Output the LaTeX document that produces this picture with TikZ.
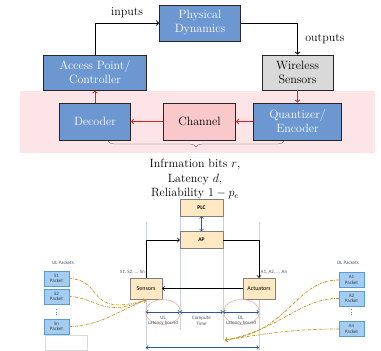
\documentclass[tikz,border=0pt]{standalone}
\usepackage{amsmath}
\usepackage{fontspec}
\newfontfamily\calibri{Carlito}
\usetikzlibrary{positioning,calc,decorations.pathreplacing}

\definecolor{boxblue}{HTML}{6C97D0}
\definecolor{boxgray}{HTML}{D9D9D9}
\definecolor{chanpink}{HTML}{F9C8CB}
\definecolor{bandpink}{HTML}{FDE4E7}
\definecolor{plcfill}{HTML}{FFE8C2}
\definecolor{packfill}{HTML}{A3CDF2}
\definecolor{packedge}{HTML}{5B9BD5}
\definecolor{guidegray}{HTML}{C9D3E0}
\definecolor{labelblue}{HTML}{44546A}
\definecolor{arrowblue}{HTML}{2F5597}
\definecolor{gold}{HTML}{C8962D}
\definecolor{salmon}{HTML}{F2B3A3}
\definecolor{linkred}{HTML}{E41E1E}

\begin{document}
\begin{tikzpicture}[
        x=1pt, y=-1pt,
        big_box/.style={draw=black!85,thick,align=center,inner sep=0pt,
            font=\fontsize{12}{14}\selectfont},
        blue_box/.style={big_box,fill=boxblue,text=white},
        small_box/.style={draw=black!50,fill=plcfill,minimum width=43pt,minimum height=17pt,
            inner sep=0pt,font=\calibri\bfseries\fontsize{5.5}{6}\selectfont},
        packet_box/.style={draw=packedge,fill=packfill,minimum width=25pt,minimum height=15pt,
            inner sep=0pt,align=center,text=black!75,font=\calibri\fontsize{5}{5.5}\selectfont},
        small_label/.style={text=labelblue,align=center,inner sep=0pt,
            font=\calibri\fontsize{5}{5.5}\selectfont},
        guide_line/.style={draw=guidegray,line width=0.6pt},
        red_arrow/.style={->,linkred,line width=1pt},
        packet_curve/.style={->,gold,line width=0.7pt,dash pattern=on 3pt off 1pt on 0.6pt off 1pt}
    ]
    \useasboundingbox (0,0) rectangle (381,351);

    % Pink band behind the coding chain
    \fill[bandpink] (20,91) rectangle (375,153);

    % Control loop
    \node[blue_box,minimum width=81pt,minimum height=36pt] (phys) at (200,23) {Physical\\Dynamics};
    \node[blue_box,minimum width=103pt,minimum height=35pt] (apc) at (95,72.5) {Access Point/\\Controller};
    \node[big_box,fill=boxgray,minimum width=71pt,minimum height=35pt] (ws) at (297.5,72.5) {Wireless\\Sensors};
    \node[blue_box,minimum width=71pt,minimum height=37pt] (dec) at (95,121.5) {Decoder};
    \node[big_box,fill=chanpink,minimum width=72pt,minimum height=37pt] (chan) at (199.5,121.5) {Channel};
    \node[blue_box,minimum width=88pt,minimum height=37pt] (qe) at (297.5,121.5) {Quantizer/\\Encoder};

    \draw[->,line width=1pt] (apc.north) |- (phys.west) node[pos=0.75,above=1pt,font=\fontsize{12}{14}\selectfont] {inputs};
    \draw[->,line width=1pt] (phys.east) -| (ws.north) node[pos=0.75,right=4pt,font=\fontsize{12}{14}\selectfont] {outputs};

    \draw[red_arrow] (ws.south) -- (qe.north);
    \draw[red_arrow] (qe.west) -- (chan.east);
    \draw[red_arrow] (chan.west) -- (dec.east);
    \draw[red_arrow] (dec.north) -- (apc.south);

    % Brace and metrics
    \draw[black!60,decorate,decoration={brace,mirror,amplitude=6pt}] (108,141) -- (284,141);
    \node[align=center,font=\fontsize{12}{14.5}\selectfont] (metrics) at (195,179)
        {Infrmation bits $r$,\\ Latency $d$,\\ Reliability $1-p_e$};

    % Timing diagram
    \draw[guide_line] (146,222) -- (146,350);
    \draw[guide_line] (180,216) -- (180,330);
    \draw[guide_line] (223,216) -- (223,340);
    \draw[guide_line] (259,222) -- (259,350);

    \node[small_box] (plc) at (201.5,207.5) {PLC};
    \node[small_box] (ap) at (201.5,240) {AP};
    \node[small_box,minimum width=32pt,minimum height=21pt,font=\calibri\fontsize{6}{6.5}\selectfont] (sens) at (146,288.5) {Sensors};
    \node[small_box,minimum width=32pt,minimum height=21pt,font=\calibri\fontsize{6}{6.5}\selectfont] (act) at (259,288.5) {Actuators};

    \draw[<->,arrowblue,line width=0.7pt] (plc.south) -- (ap.north);
    \draw[->,line width=0.8pt] (sens.north) |- (ap.west);
    \draw[->,line width=0.8pt] (ap.east) -| (act.north);
    \draw[->,line width=0.8pt] (act.west) -- (sens.east);

    \node[small_label,anchor=south east] (slist) at ([xshift=-1pt,yshift=3pt]sens.north) {S1, S2, ... Sn};
    \node[small_label,anchor=south west] (alist) at ([xshift=1.5pt,yshift=3pt]act.north) {A1, A2, ... An};

    % Latency intervals
    \coordinate (t0) at (146,312);
    \coordinate (t1) at (180,312);
    \coordinate (t2) at (223,312);
    \coordinate (t3) at (259,312);
    \draw[salmon,line width=0.6pt] (163,312) ellipse [x radius=17.5pt,y radius=12.5pt];
    \draw[salmon,line width=0.6pt] (241.5,312) ellipse [x radius=18pt,y radius=12.5pt];
    \draw[<->,arrowblue,line width=0.7pt] (t0) -- (t1);
    \draw[<->,arrowblue,line width=0.7pt] (t1) -- (t2);
    \draw[<->,arrowblue,line width=0.7pt] (t2) -- (t3);
    \node[small_label] (ullab) at (163,321) {UL\\Latency bound};
    \node[small_label] (comp) at (201.5,321) {Compute\\Time};
    \node[small_label] (dllab) at (241,321) {DL\\Latency bound};

    \coordinate (c0) at (146,347.5);
    \coordinate (c1) at (259,347.5);
    \draw[<->,arrowblue,line width=0.7pt] (c0) -- (c1);

    % UL packets
    \node[small_label] (ulhead) at (63,263) {UL Packets};
    \node[packet_box] (s1) at (56.5,278.5) {S1\\Packet};
    \node[packet_box] (s2) at (56.5,296.5) {S2\\Packet};
    \node[packet_box] (sn) at (56.5,326.5) {Sn\\Packet};
    \draw[packedge,dotted,line width=0.7pt] (56.5,309) -- (56.5,317);
    \draw[black!15] (45,335) rectangle (87,350);

    \coordinate (ul_in) at (146,300);
    \draw[packet_curve] (s1.east) .. controls (105,280) and (85,318) .. (ul_in);
    \draw[packet_curve] (s2.east) .. controls (100,298) and (100,318) .. (ul_in);
    \draw[packet_curve] (sn.east) .. controls (100,326) and (120,310) .. (ul_in);

    % DL packets
    \node[small_label] (dlhead) at (348,263) {DL Packets};
    \node[packet_box] (a1) at (351.5,280) {A1\\Packet};
    \node[packet_box] (a2) at (351.5,298.5) {A2\\Packet};
    \node[packet_box] (an) at (351.5,329) {An\\Packet};
    \draw[packedge,dotted,line width=0.7pt] (351.5,309) -- (351.5,317);

    \coordinate (dl_in) at (225,340);
    \draw[packet_curve] (a1.west) .. controls (295,280) and (290,332) .. (dl_in);
    \draw[packet_curve] (a2.west) .. controls (300,298) and (280,330) .. (dl_in);
    \draw[packet_curve] (an.west) .. controls (295,329) and (270,333) .. (dl_in);
\end{tikzpicture}
\end{document}
